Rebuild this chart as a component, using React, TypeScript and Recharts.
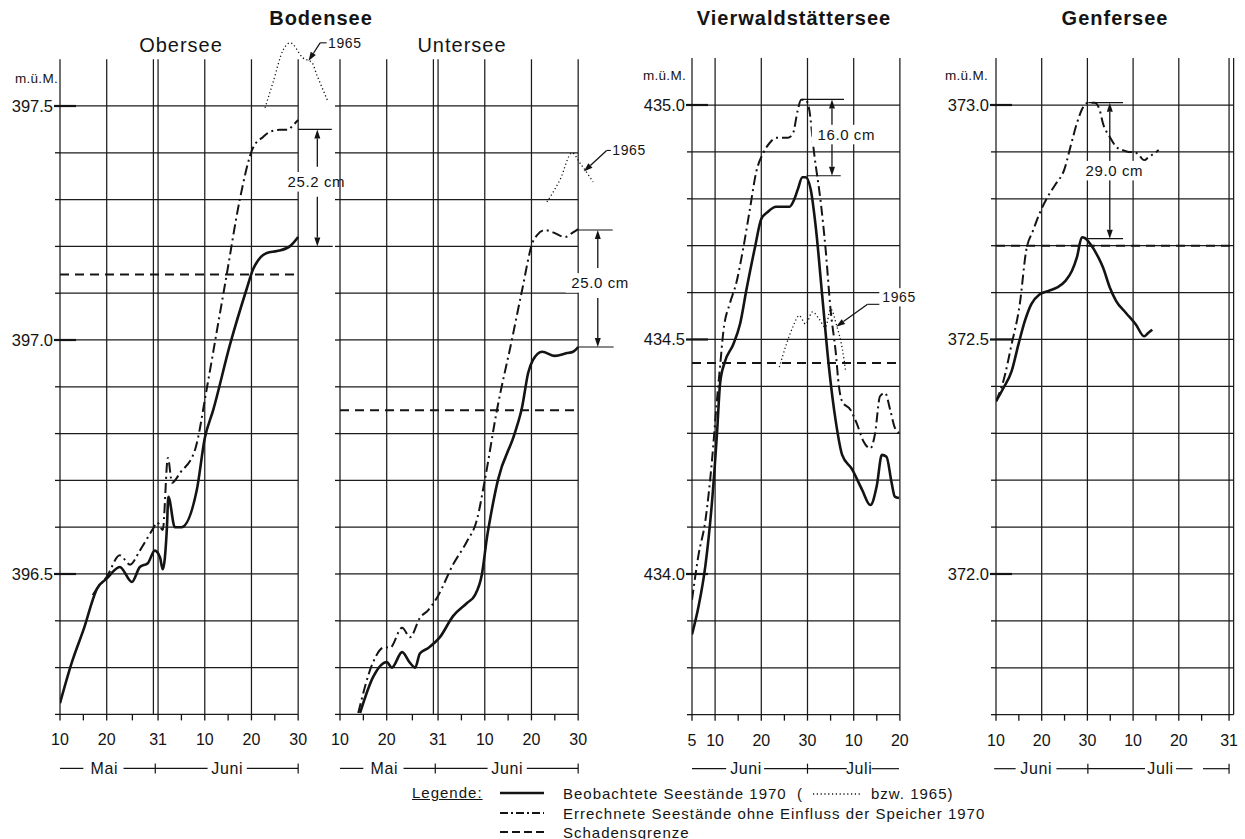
import React from 'react';
import { LineChart, Line, XAxis, YAxis, ReferenceLine, ReferenceDot } from 'recharts';

type Pt = { d: number; v: number };
const pts = (rows: number[][]): Pt[] => rows.map(([d, v]) => ({ d, v }));

// Bodensee: x = Tag im Mai (Juni d = 31 + d)
const oberseeObserved = pts([
  [10, 396.224], [12.5, 396.31], [15, 396.38], [18, 396.47], [20, 396.49], [22.8, 396.515],
  [25.4, 396.483], [27.1, 396.515], [28.8, 396.523], [30.3, 396.55], [31.4, 396.536], [32, 396.51],
  [32.9, 396.6], [33.2, 396.665], [34.6, 396.6], [36, 396.6], [39.3, 396.68], [41, 396.79],
  [42.8, 396.85], [46.4, 396.99], [50, 397.11], [51.3, 397.15], [52.4, 397.17], [54.3, 397.186],
  [56.5, 397.19], [59.2, 397.2], [61, 397.22],
]);
const oberseeCalc = pts([
  [17, 396.455], [18, 396.47], [20, 396.494], [22.8, 396.54], [25, 396.52], [27.1, 396.55],
  [30, 396.598], [30.8, 396.61], [32, 396.594], [33.1, 396.748], [34, 396.695], [35.7, 396.716],
  [38.9, 396.765], [41.5, 396.9], [43.6, 397.02], [45.7, 397.14], [48.5, 397.3], [51.3, 397.41],
  [53.5, 397.434], [55, 397.445], [57.1, 397.449], [58.8, 397.449], [60, 397.46], [61, 397.47],
]);
const obersee1965 = pts([
  [53.9, 397.496], [55.6, 397.55], [57.8, 397.62], [59.3, 397.635], [62, 397.603], [64, 397.592],
  [65, 397.566], [66.1, 397.54], [67.4, 397.509],
]);
const oberseeDamage = pts([[10, 397.14], [61, 397.14]]);

const unterseeObserved = pts([
  [14.3, 396.203], [17.1, 396.28], [20, 396.312], [21.1, 396.3], [23.3, 396.333], [25, 396.31],
  [26.1, 396.3], [27.1, 396.33], [28.9, 396.342], [31.4, 396.365], [34.2, 396.41], [37.2, 396.438],
  [38.9, 396.455], [40.4, 396.5], [41.5, 396.58], [42.1, 396.615], [43.8, 396.7], [47.5, 396.803],
  [49, 396.857], [50.3, 396.93], [51.3, 396.957], [53.3, 396.975], [56, 396.966], [58.6, 396.972],
  [59.9, 396.975], [61, 396.985],
]);
const unterseeCalc = pts([
  [13.9, 396.203], [17.1, 396.312], [19.6, 396.344], [20.7, 396.342], [23.3, 396.385], [25, 396.365],
  [27.1, 396.406], [28.9, 396.423], [30.8, 396.45], [34.2, 396.52], [37.2, 396.57], [39.3, 396.615],
  [41, 396.7], [43.6, 396.85], [46.8, 397.0], [49, 397.107], [51.3, 397.21], [52.2, 397.224],
  [53.9, 397.235], [55.6, 397.23], [58.2, 397.22], [59.9, 397.23], [61, 397.237],
]);
const untersee1965 = pts([[54.3, 397.295], [57.1, 397.342], [59.7, 397.4], [61.4, 397.378], [64.2, 397.338]]);
const unterseeDamage = pts([[10, 396.85], [61, 396.85]]);

// Vierwaldstättersee / Genfersee: x = Tag im Juni (Juli d = 30 + d)
const vierwaldObserved = pts([
  [5, 433.871], [6.4, 433.93], [7.9, 434.018], [9.3, 434.15], [10.4, 434.298], [11.1, 434.408],
  [12.1, 434.452], [13.9, 434.489], [15.4, 434.533], [16.8, 434.607], [18.6, 434.695], [20, 434.757],
  [21.4, 434.772], [23.2, 434.783], [26.1, 434.783], [27.1, 434.798], [27.9, 434.82], [28.9, 434.846],
  [29.6, 434.846], [30.7, 434.82], [31.8, 434.739], [33.2, 434.592], [34.6, 434.445], [36.1, 434.327],
  [37.5, 434.254], [39.6, 434.224], [41.8, 434.18], [43.6, 434.147], [45, 434.188], [46.1, 434.254],
  [47.1, 434.25], [48.2, 434.195], [48.9, 434.165], [49.8, 434.162],
]);
const vierwaldCalc = pts([
  [5, 433.945], [6.4, 434.04], [7.9, 434.114], [9.3, 434.239], [10.4, 434.371], [11.1, 434.445],
  [11.8, 434.518], [13.2, 434.577], [14.6, 434.621], [16.1, 434.695], [17.5, 434.776], [18.9, 434.857],
  [20.4, 434.897], [21.8, 434.919], [23.2, 434.93], [25.7, 434.93], [26.8, 434.938], [27.9, 434.989],
  [28.6, 435.011], [29.6, 435.011], [30.4, 434.989], [31.4, 434.9], [32.9, 434.79], [33.9, 434.695],
  [35, 434.563], [36.1, 434.474], [36.8, 434.4], [37.5, 434.368], [39.3, 434.35], [40.7, 434.32],
  [42.1, 434.283], [43.6, 434.268], [44.6, 434.298], [45.7, 434.379], [46.8, 434.386], [47.9, 434.35],
  [48.9, 434.312], [49.8, 434.301],
]);
const vierwald1965 = pts([
  [23.9, 434.441], [25.4, 434.489], [26.8, 434.526], [28.2, 434.551], [29.6, 434.533], [31.1, 434.559],
  [32.5, 434.544], [33.9, 434.526], [35, 434.565], [36.3, 434.53], [37.5, 434.482], [38.3, 434.43],
]);
const vierwaldDamage = pts([[5, 434.45], [50, 434.45]]);

const genferObserved = pts([
  [10, 372.368], [11.6, 372.396], [13.4, 372.432], [14.9, 372.489], [16.3, 372.539], [17.7, 372.575],
  [19.5, 372.596], [21.6, 372.604], [23.4, 372.611], [25.2, 372.625], [26.6, 372.646], [27.7, 372.675],
  [28.8, 372.718], [29.5, 372.716], [30.6, 372.704], [32.4, 372.675], [33.4, 372.654], [34.9, 372.611],
  [36.3, 372.582], [38.4, 372.557], [40.6, 372.532], [42.4, 372.507], [43.3, 372.514], [44.2, 372.521],
]);
const genferCalc = pts([
  [10, 372.368], [11.6, 372.411], [13.4, 372.489], [15.2, 372.575], [16.6, 372.689], [18.1, 372.732],
  [19.5, 372.768], [21.3, 372.804], [23.1, 372.832], [24.9, 372.861], [26.3, 372.911], [27.7, 372.961],
  [29.1, 372.996], [30.2, 373.005], [31.6, 373.005], [32.7, 372.989], [33.4, 372.961], [34.9, 372.932],
  [36.3, 372.911], [37.7, 372.904], [39.1, 372.9], [40.2, 372.9], [41.3, 372.893], [42.4, 372.882],
  [43.4, 372.889], [44.5, 372.896], [45.6, 372.904],
]);
const genferDamage = pts([[10, 372.7], [62, 372.7]]);

// Achsen
const bodenseeDayTicks = [10, 20, 31, 41, 51, 61];
const bodenseeDayLabels = ['10', '20', '31', '10', '20', '30'];
const bodenseeMinorDays = [15, 25.5, 36, 46, 56];
const bodenseeGridDays = [10, 20, 30, 31, 41, 51, 61];
const bodenseeLevels = [396.2, 396.3, 396.4, 396.5, 396.6, 396.7, 396.8, 396.9, 397.0, 397.1, 397.2, 397.3, 397.4, 397.5];
const oberseeLabeled = [396.5, 397.0, 397.5];

const vierwaldDayTicks = [5, 10, 20, 30, 40, 50];
const vierwaldDayLabels = ['5', '10', '20', '30', '10', '20'];
const vierwaldMinorDays = [15, 25, 35, 45];
const vierwaldLevels = [433.7, 433.8, 433.9, 434.0, 434.1, 434.2, 434.3, 434.4, 434.5, 434.6, 434.7, 434.8, 434.9, 435.0];
const vierwaldLabeled = [434.0, 434.5, 435.0];

const genferDayTicks = [10, 20, 30, 40, 50, 61];
const genferDayLabels = ['10', '20', '30', '10', '20', '31'];
const genferMinorDays = [15, 25, 35, 45, 55];
const genferGridDays = [10, 20, 30, 40, 50, 61, 62];
const genferLevels = [371.7, 371.8, 371.9, 372.0, 372.1, 372.2, 372.3, 372.4, 372.5, 372.6, 372.7, 372.8, 372.9, 373.0];
const genferLabeled = [372.0, 372.5, 373.0];

const FONT = "'Liberation Sans', Arial, sans-serif";
const INK = '#141414';
const GRID = '#1c1c1c';
const Y_W = 60;
const AXIS_H = 80;

const ArrowLine = (props: any) => {
  const { x1, y1, x2, y2 } = props;
  const a = Math.atan2(y2 - y1, x2 - x1);
  const len = 9;
  const half = 3;
  const bx = x2 - len * Math.cos(a);
  const by = y2 - len * Math.sin(a);
  const nx = -Math.sin(a) * half;
  const ny = Math.cos(a) * half;
  return (
    <g>
      <line x1={x1} y1={y1} x2={bx} y2={by} stroke={INK} strokeWidth={1.3} />
      <polygon points={`${x2},${y2} ${bx + nx},${by + ny} ${bx - nx},${by - ny}`} fill={INK} />
    </g>
  );
};

const textMark = (text: string, size: number, bg = false, anchor: 'start' | 'middle' = 'middle') => (props: any) => {
  const { cx, cy } = props;
  const w = text.length * size * 0.6 + 6;
  const rx = anchor === 'middle' ? cx - w / 2 : cx - 3;
  return (
    <g>
      {bg && <rect x={rx} y={cy - size * 0.65} width={w} height={size * 1.3} fill="#fff" />}
      <text x={cx} y={cy} textAnchor={anchor} dominantBaseline="central" fontSize={size}
        fontFamily={FONT} fill={INK} letterSpacing={0.6}>{text}</text>
    </g>
  );
};

const makeXTick = (major: number[], labels: string[]) => (props: any) => {
  const v = props.payload.value;
  const i = major.indexOf(v);
  return (
    <g>
      <line x1={props.x} x2={props.x} y1={props.y} y2={props.y + 6} stroke={INK} strokeWidth={1.3} />
      {i >= 0 && (
        <text x={props.x} y={props.y + 31} textAnchor="middle" fontSize={16} fontFamily={FONT} fill={INK}>
          {labels[i]}
        </text>
      )}
    </g>
  );
};

const makeYTick = (labeled: number[]) => (props: any) => {
  const v = props.payload.value;
  const lab = labeled.find((l) => Math.abs(l - v) < 1e-6);
  if (lab === undefined) {
    return <line x1={props.x - 5} x2={props.x} y1={props.y} y2={props.y} stroke={INK} strokeWidth={1.3} />;
  }
  return (
    <g>
      <line x1={props.x - 6} x2={props.x + 16} y1={props.y} y2={props.y} stroke={INK} strokeWidth={2.2} />
      <text x={props.x - 7} y={props.y + 6} textAnchor="end" fontSize={16.5} fontFamily={FONT} fill={INK}>
        {lab.toFixed(1)}
      </text>
    </g>
  );
};

type Dim = { d: number; top: number; bottom: number; topExt: number[]; botExt: number[]; upTo: number; downFrom: number; at: Pt; text: string };
type Note = { leader: Pt[]; at: Pt; bg: boolean };
type Months = { segs: number[][]; bars: number[]; labels: { d: number; text: string }[] };

type PanelProps = {
  x0: number; pxPerDay: number; xDomain: [number, number];
  yBottom: number; pxPerM: number; yDomain: [number, number];
  gridDays: number[]; gridLevels: number[]; gridTop: number;
  dayTicks: number[]; dayLabels: string[]; minorDays: number[]; labeledLevels: number[];
  observed: Pt[]; calc: Pt[]; old?: Pt[]; damage: Pt[];
  dim: Dim; note?: Note; months: Months;
};

const LakePanel = (p: PanelProps) => {
  const plotW = (p.xDomain[1] - p.xDomain[0]) * p.pxPerDay;
  const plotH = (p.yDomain[1] - p.yDomain[0]) * p.pxPerM;
  const top = p.yBottom - plotH;
  const yMin = p.yDomain[0];
  const monthY = yMin - 54 / p.pxPerM;
  const barH = 5 / p.pxPerM;
  const gx0 = p.gridDays[0];
  const gx1 = p.gridDays[p.gridDays.length - 1];
  const xTicks = [...p.dayTicks, ...p.minorDays].sort((a, b) => a - b);
  const seg = (a: Pt, b: Pt) => [{ x: a.d, y: a.v }, { x: b.d, y: b.v }];

  return (
    <div style={{ position: 'absolute', left: p.x0 - Y_W, top: 0 }}>
      <LineChart width={Y_W + plotW} height={p.yBottom + AXIS_H} margin={{ top, right: 0, bottom: 0, left: 0 }}>
        <XAxis type="number" dataKey="d" domain={p.xDomain} allowDataOverflow ticks={xTicks} interval={0}
          tickSize={0} tickMargin={0} axisLine={false} tickLine={false} height={AXIS_H}
          tick={makeXTick(p.dayTicks, p.dayLabels)} />
        <YAxis type="number" domain={p.yDomain} allowDataOverflow ticks={p.gridLevels} interval={0}
          tickSize={0} tickMargin={0} axisLine={false} tickLine={false} width={Y_W}
          tick={makeYTick(p.labeledLevels)} />

        {p.gridLevels.map((v) => (
          <ReferenceLine key={'h' + v} segment={[{ x: gx0, y: v }, { x: gx1, y: v }]} stroke={GRID} strokeWidth={1.25} ifOverflow="visible" />
        ))}
        {p.gridDays.map((d) => (
          <ReferenceLine key={'v' + d} segment={[{ x: d, y: yMin }, { x: d, y: p.gridTop }]} stroke={GRID} strokeWidth={1.25} ifOverflow="visible" />
        ))}

        {/* Monatszeile */}
        {p.months.segs.map(([a, b]) => (
          <ReferenceLine key={'m' + a} segment={[{ x: a, y: monthY }, { x: b, y: monthY }]} stroke={INK} strokeWidth={1.2} ifOverflow="visible" />
        ))}
        {p.months.bars.map((b) => (
          <ReferenceLine key={'b' + b} segment={[{ x: b, y: monthY - barH }, { x: b, y: monthY + barH }]} stroke={INK} strokeWidth={1.2} ifOverflow="visible" />
        ))}
        {p.months.labels.map((m) => (
          <ReferenceDot key={m.text} x={m.d} y={monthY} r={0} ifOverflow="visible" shape={textMark(m.text, 16)} />
        ))}

        {/* Differenz-Bemassung */}
        <ReferenceLine segment={[{ x: p.dim.topExt[0], y: p.dim.top }, { x: p.dim.topExt[1], y: p.dim.top }]} stroke={INK} strokeWidth={1.1} ifOverflow="visible" />
        <ReferenceLine segment={[{ x: p.dim.botExt[0], y: p.dim.bottom }, { x: p.dim.botExt[1], y: p.dim.bottom }]} stroke={INK} strokeWidth={1.1} ifOverflow="visible" />
        <ReferenceLine segment={[{ x: p.dim.d, y: p.dim.upTo }, { x: p.dim.d, y: p.dim.top }]} shape={ArrowLine} ifOverflow="visible" />
        <ReferenceLine segment={[{ x: p.dim.d, y: p.dim.downFrom }, { x: p.dim.d, y: p.dim.bottom }]} shape={ArrowLine} ifOverflow="visible" />
        <ReferenceDot x={p.dim.at.d} y={p.dim.at.v} r={0} ifOverflow="visible" shape={textMark(p.dim.text, 15, true)} />

        {p.note && p.note.leader.slice(0, -1).map((a, i) => (
          <ReferenceLine key={'n' + i} segment={seg(a, p.note!.leader[i + 1])} stroke={INK} strokeWidth={1.1}
            shape={i === p.note!.leader.length - 2 ? ArrowLine : undefined} ifOverflow="visible" />
        ))}
        {p.note && (
          <ReferenceDot x={p.note.at.d} y={p.note.at.v} r={0} ifOverflow="visible" shape={textMark('1965', 14, p.note.bg, 'start')} />
        )}

        <Line data={p.damage} dataKey="v" type="linear" stroke={INK} strokeWidth={2} strokeDasharray="9 6"
          dot={false} activeDot={false} isAnimationActive={false} />
        {p.old && (
          <Line data={p.old} dataKey="v" type="monotone" stroke={INK} strokeWidth={1.3} strokeDasharray="1.2 2.6"
            dot={false} activeDot={false} isAnimationActive={false} />
        )}
        <Line data={p.calc} dataKey="v" type="monotone" stroke={INK} strokeWidth={2} strokeDasharray="10 4 2 4"
          dot={false} activeDot={false} isAnimationActive={false} />
        <Line data={p.observed} dataKey="v" type="monotone" stroke={INK} strokeWidth={2.6}
          dot={false} activeDot={false} isAnimationActive={false} />
      </LineChart>
    </div>
  );
};

const bodenseeMonths: Months = {
  segs: [[10, 15], [23.6, 30.4], [30.4, 41.6], [50, 61]],
  bars: [30.4, 61],
  labels: [{ d: 19.5, text: 'Mai' }, { d: 45.8, text: 'Juni' }],
};
const vierwaldMonths: Months = {
  segs: [[5, 12.4], [20.6, 30], [30, 38.5], [43.9, 49.8]],
  bars: [30],
  labels: [{ d: 16.7, text: 'Juni' }, { d: 41.2, text: 'Juli' }],
};
const genferMonths: Months = {
  segs: [[9.6, 14.3], [23.2, 30.1], [30.1, 42.6], [49.4, 53], [55.3, 61]],
  bars: [30.1, 61],
  labels: [{ d: 18.8, text: 'Juni' }, { d: 46, text: 'Juli' }],
};

const Title = ({ x, y, size, bold, text }: { x: number; y: number; size: number; bold?: boolean; text: string }) => (
  <div style={{
    position: 'absolute', left: x, top: y, transform: 'translate(-50%, -50%)', whiteSpace: 'nowrap',
    fontSize: size, fontWeight: bold ? 700 : 400, letterSpacing: 1, lineHeight: 1,
  }}>{text}</div>
);

const Unit = ({ right, y }: { right: number; y: number }) => (
  <div style={{ position: 'absolute', left: right - 60, width: 60, top: y - 8, textAlign: 'right', fontSize: 13.5, letterSpacing: 0.3, lineHeight: '16px' }}>
    m.ü.M.
  </div>
);

const Sample = ({ dash, width }: { dash?: string; width: number }) => (
  <svg width={44} height={10} style={{ display: 'block' }}>
    <line x1={0} x2={44} y1={5} y2={5} stroke={INK} strokeWidth={width} strokeDasharray={dash} />
  </svg>
);

const LegendRow = ({ y, children, dash, width }: { y: number; children: React.ReactNode; dash?: string; width: number }) => (
  <div style={{ position: 'absolute', left: 500, top: y - 9, height: 18, display: 'flex', alignItems: 'center', fontSize: 15, letterSpacing: 1, whiteSpace: 'nowrap' }}>
    <Sample dash={dash} width={width} />
    <div style={{ width: 19 }} />
    {children}
  </div>
);

export default function App() {
  return (
    <div style={{ position: 'absolute', left: 0, top: 0, width: 1245, height: 839, background: '#fff', fontFamily: FONT, color: INK, overflow: 'hidden' }}>
      <style>{'.recharts-surface{overflow:visible}'}</style>

      <LakePanel x0={60} pxPerDay={4.67} xDomain={[10, 76]} yBottom={714.4} pxPerM={468} yDomain={[396.2, 397.7]}
        gridDays={bodenseeGridDays} gridLevels={bodenseeLevels} gridTop={397.6}
        dayTicks={bodenseeDayTicks} dayLabels={bodenseeDayLabels} minorDays={bodenseeMinorDays} labeledLevels={oberseeLabeled}
        observed={oberseeObserved} calc={oberseeCalc} old={obersee1965} damage={oberseeDamage}
        dim={{ d: 65.1, top: 397.45, bottom: 397.2, topExt: [61, 68.2], botExt: [61, 68.4], upTo: 397.37, downFrom: 397.306, at: { d: 64.9, v: 397.338 }, text: '25.2 cm' }}
        note={{ leader: [{ d: 67.1, v: 397.635 }, { d: 65.7, v: 397.635 }, { d: 63.2, v: 397.596 }], at: { d: 67.4, v: 397.635 }, bg: false }}
        months={bodenseeMonths} />

      <LakePanel x0={340} pxPerDay={4.67} xDomain={[10, 76]} yBottom={714.4} pxPerM={468} yDomain={[396.2, 397.7]}
        gridDays={bodenseeGridDays} gridLevels={bodenseeLevels} gridTop={397.6}
        dayTicks={bodenseeDayTicks} dayLabels={bodenseeDayLabels} minorDays={bodenseeMinorDays} labeledLevels={[]}
        observed={unterseeObserved} calc={unterseeCalc} old={untersee1965} damage={unterseeDamage}
        dim={{ d: 65.2, top: 397.235, bottom: 396.985, topExt: [61, 68.4], botExt: [61, 68.6], upTo: 397.154, downFrom: 397.09, at: { d: 65.7, v: 397.122 }, text: '25.0 cm' }}
        note={{ leader: [{ d: 68.0, v: 397.405 }, { d: 67.1, v: 397.405 }, { d: 62.2, v: 397.36 }], at: { d: 68.3, v: 397.405 }, bg: false }}
        months={bodenseeMonths} />

      <LakePanel x0={692} pxPerDay={4.62} xDomain={[5, 56]} yBottom={714.7} pxPerM={469} yDomain={[433.7, 435.1]}
        gridDays={vierwaldDayTicks} gridLevels={vierwaldLevels} gridTop={435.1}
        dayTicks={vierwaldDayTicks} dayLabels={vierwaldDayLabels} minorDays={vierwaldMinorDays} labeledLevels={vierwaldLabeled}
        observed={vierwaldObserved} calc={vierwaldCalc} old={vierwald1965} damage={vierwaldDamage}
        dim={{ d: 35.3, top: 435.012, bottom: 434.849, topExt: [28.8, 37.9], botExt: [29.8, 37.2], upTo: 434.956, downFrom: 434.918, at: { d: 38.4, v: 434.937 }, text: '16.0 cm' }}
        note={{ leader: [{ d: 45.9, v: 434.575 }, { d: 43.0, v: 434.575 }, { d: 36.2, v: 434.527 }], at: { d: 46.2, v: 434.59 }, bg: true }}
        months={vierwaldMonths} />

      <LakePanel x0={996} pxPerDay={4.57} xDomain={[10, 63]} yBottom={714.7} pxPerM={469} yDomain={[371.7, 373.1]}
        gridDays={genferGridDays} gridLevels={genferLevels} gridTop={373.1}
        dayTicks={genferDayTicks} dayLabels={genferDayLabels} minorDays={genferMinorDays} labeledLevels={genferLabeled}
        observed={genferObserved} calc={genferCalc} damage={genferDamage}
        dim={{ d: 34.9, top: 373.005, bottom: 372.715, topExt: [30.2, 37.8], botExt: [29.3, 37.8], upTo: 372.878, downFrom: 372.843, at: { d: 35.9, v: 372.86 }, text: '29.0 cm' }}
        months={genferMonths} />

      <Title x={321} y={18} size={20} bold text="Bodensee" />
      <Title x={181} y={45} size={20} text="Obersee" />
      <Title x={462} y={45} size={20} text="Untersee" />
      <Title x={794} y={18} size={20} bold text="Vierwaldstättersee" />
      <Title x={1115} y={18} size={20} bold text="Genfersee" />

      <Unit right={58} y={79} />
      <Unit right={686} y={76} />
      <Unit right={988} y={76} />

      <div style={{ position: 'absolute', left: 412, top: 784, fontSize: 15, letterSpacing: 1, textDecoration: 'underline', lineHeight: '18px' }}>
        Legende:
      </div>
      <LegendRow y={793} width={2.5}>
        <span>Beobachtete Seestände 1970&nbsp;&nbsp;(</span>
        <svg width={52} height={10} style={{ margin: '0 8px' }}>
          <line x1={2} x2={50} y1={6} y2={6} stroke={INK} strokeWidth={1.3} strokeDasharray="1.2 2.6" />
        </svg>
        <span>bzw. 1965)</span>
      </LegendRow>
      <LegendRow y={813} width={2} dash="8 3 2 3">
        <span>Errechnete Seestände ohne Einfluss der Speicher 1970</span>
      </LegendRow>
      <LegendRow y={832} width={2} dash="8 4">
        <span>Schadensgrenze</span>
      </LegendRow>
    </div>
  );
}
